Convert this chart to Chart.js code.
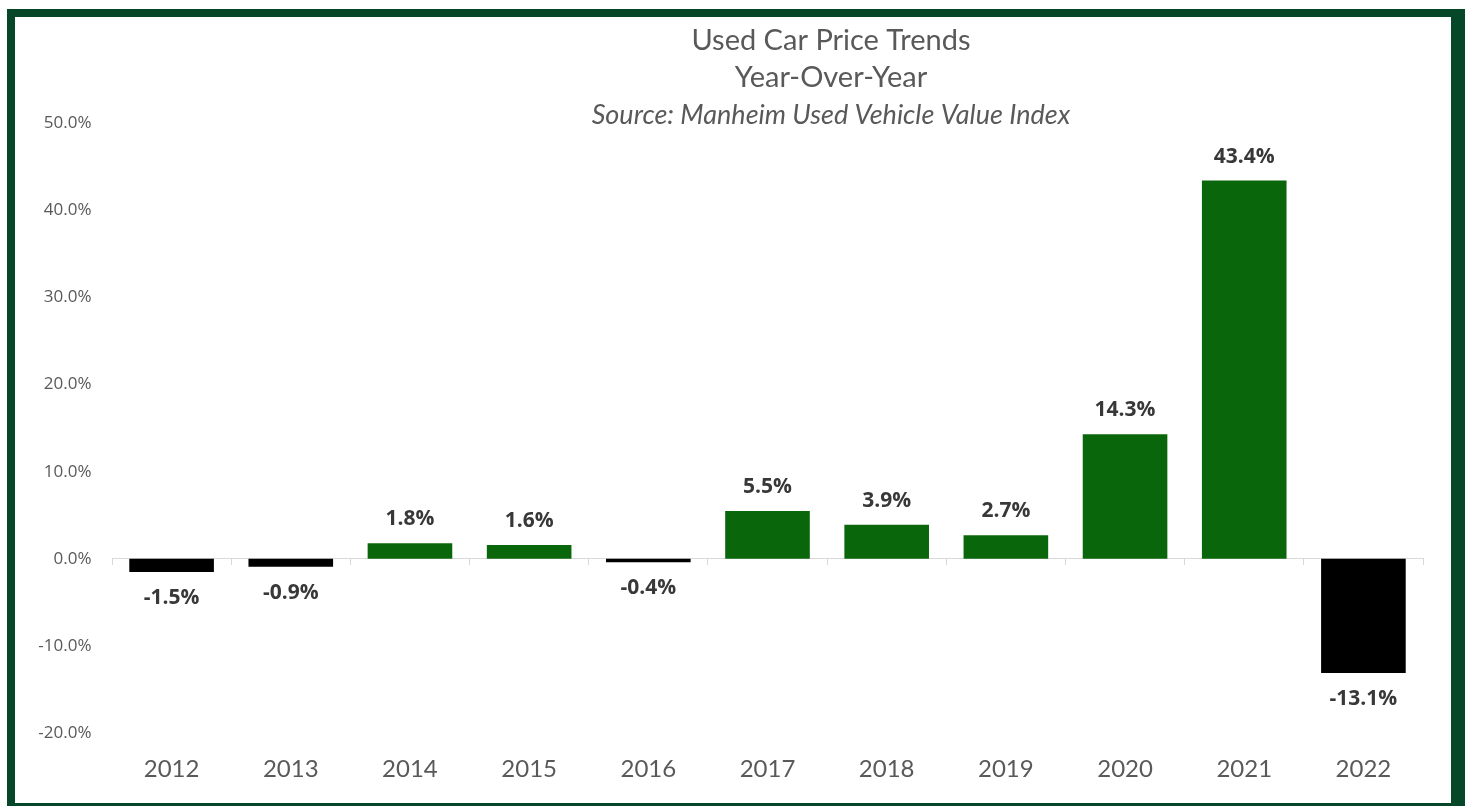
<!DOCTYPE html>
<html>
<head>
<meta charset="utf-8">
<script src="https://cdn.jsdelivr.net/npm/chart.js@4.4.1/dist/chart.umd.min.js"></script>
<style>
  html, body { margin: 0; padding: 0; background: #fff; overflow: hidden; }
  #frame {
    position: absolute;
    left: 7px; top: 9px;
    width: 1436px; height: 786px;
    border: 8px solid #06472a;
    border-right-width: 14px;
    background: #fff;
  }
  #chart { display: block; }
</style>
</head>
<body>
<div id="frame">
  <canvas id="chart" width="1436" height="786"></canvas>
</div>
<script>
// Year-over-year change in used car prices (%)
const years = ["2012", "2013", "2014", "2015", "2016", "2017", "2018", "2019", "2020", "2021", "2022"];
const yoyChange = [-1.5, -0.9, 1.8, 1.6, -0.4, 5.5, 3.9, 2.7, 14.3, 43.4, -13.1];
const titleLines = ["Used Car Price Trends", "Year-Over-Year"];
const sourceLine = "Source: Manheim Used Vehicle Value Index";

const GREEN = "#0a660a";
const BLACK = "#000000";
const GREY_TEXT = "#595959";

// Headline block, centred a bit right of the canvas middle
const headerPlugin = {
  id: "header",
  afterDraw(chart) {
    const ctx = chart.ctx;
    const cx = 816;
    ctx.save();
    ctx.fillStyle = GREY_TEXT;
    ctx.textAlign = "center";
    ctx.textBaseline = "middle";
    ctx.font = "29px Lato";
    ctx.fillText(titleLines[0], cx, 24);
    ctx.fillText(titleLines[1], cx, 61);
    ctx.font = "italic 27px Lato";
    ctx.fillText(sourceLine, cx, 98);
    ctx.restore();
  }
};

// Value labels above positive bars, below negative ones
const valueLabels = {
  id: "valueLabels",
  afterDatasetsDraw(chart) {
    const ctx = chart.ctx;
    const meta = chart.getDatasetMeta(0);
    const data = chart.data.datasets[0].data;
    ctx.save();
    ctx.font = "bold 21px 'Open Sans'";
    ctx.fillStyle = "#383838";
    ctx.textAlign = "center";
    ctx.textBaseline = "middle";
    meta.data.forEach((bar, i) => {
      const v = data[i];
      const y = v >= 0 ? bar.y - 24 : bar.y + 26;
      ctx.fillText(v.toFixed(1) + "%", bar.x, y);
    });
    ctx.restore();
  }
};

new Chart(document.getElementById("chart"), {
  type: "bar",
  data: {
    labels: years,
    datasets: [{
      data: yoyChange,
      backgroundColor: yoyChange.map(v => v >= 0 ? GREEN : BLACK),
      barPercentage: 0.71,
      categoryPercentage: 1.0
    }]
  },
  options: {
    responsive: false,
    animation: false,
    layout: { padding: { top: 106, right: 28, bottom: 6, left: 0 } },
    plugins: {
      legend: { display: false },
      tooltip: { enabled: false }
    },
    scales: {
      x: {
        grid: { display: false },
        border: { display: false },
        ticks: {
          color: GREY_TEXT,
          font: { family: "Lato", size: 24 },
          padding: 13.5
        }
      },
      // zero line with category tick marks
      x2: {
        type: "category",
        position: { y: 0 },
        offset: true,
        grid: { display: true, offset: true, drawOnChartArea: false, tickLength: 6, color: "#d9d9d9" },
        border: { display: true, color: "#d9d9d9" },
        ticks: { display: false }
      },
      y: {
        min: -20,
        max: 50,
        grid: { display: false, drawTicks: false },
        border: { display: false },
        ticks: {
          stepSize: 10,
          color: GREY_TEXT,
          padding: 20.5,
          font: { family: "'Open Sans'", size: 17 },
          callback: v => v.toFixed(1) + "%"
        },
        afterFit(scale) { scale.width = 97; }
      }
    }
  },
  plugins: [headerPlugin, valueLabels]
});
</script>
</body>
</html>
